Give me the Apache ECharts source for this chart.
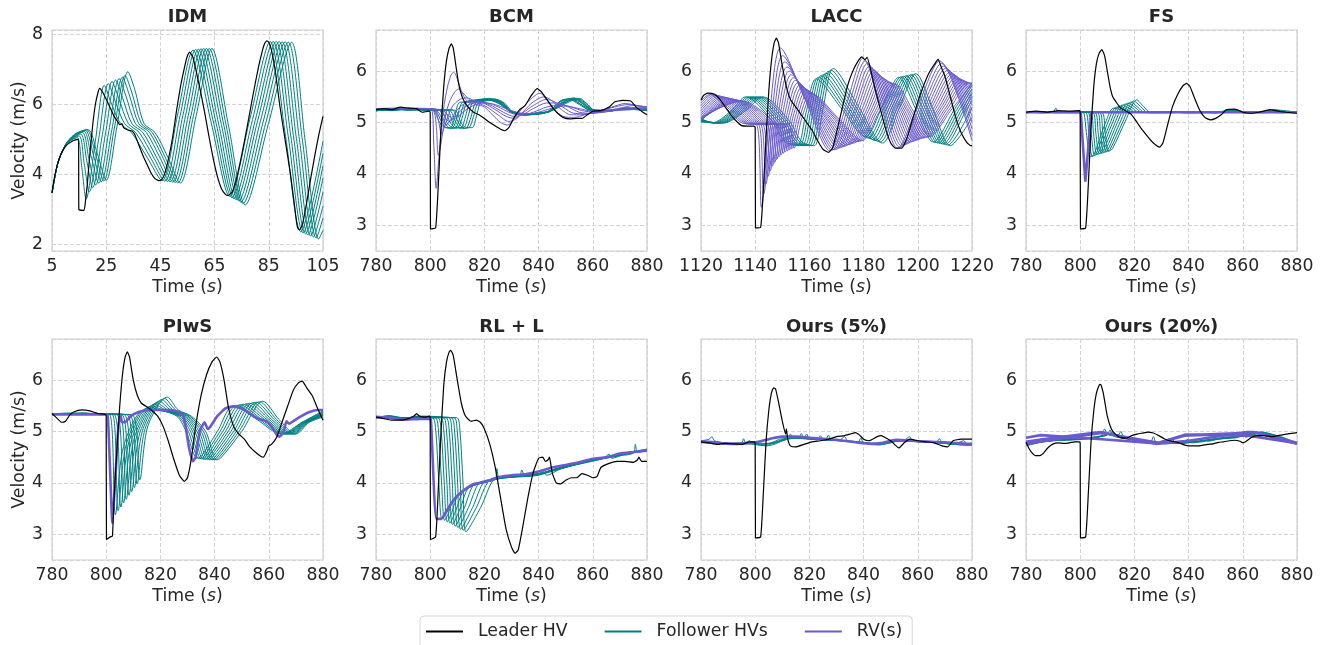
<!DOCTYPE html>
<html>
<head>
<meta charset="utf-8">
<script src="https://cdn.jsdelivr.net/npm/echarts@6/dist/echarts.min.js"></script>
<style>html,body{margin:0;padding:0;background:#fff}#c{width:1323px;height:645px}</style>
</head>
<body>
<div id="c"></div>
<script>
// ---------------- DATA ----------------
const panelTitles = ['IDM', 'BCM', 'LACC', 'FS', 'PIwS', 'RL + L', 'Ours (5%)', 'Ours (20%)'];
const legendNames = ['Leader HV', 'Follower HVs', 'RV(s)'];
const xRanges = [[5,105],[780,880],[1120,1220],[780,880],[780,880],[780,880],[780,880],[780,880]];
const yRanges = [[1.81,8.13],[2.5,6.8],[2.5,6.8],[2.5,6.8],[2.5,6.8],[2.5,6.8],[2.5,6.8],[2.5,6.8]];

// IDM
const idmLeader = [[5,3.47],[6,3.95],[7,4.28],[8,4.52],[9,4.68],[10,4.8],[11,4.88],[12,4.93],[13,4.97],[14.8,5.0],[14.9,3.0],[16.8,2.97],[17.3,3.2],[18,3.7],[19,4.6],[20,5.4],[21,6.0],[22,6.35],[22.6,6.46],[23.5,6.38],[25,6.15],[26.5,5.9],[28,5.65],[29.3,5.5],[30,5.42],[30.8,5.45],[31.5,5.33],[33,5.27],[34.5,5.24],[35.5,5.15],[37,4.85],[38.5,4.55],[40,4.3],[41.5,4.05],[43,3.88],[44.4,3.82],[45.5,3.86],[46.5,4.0],[48,4.45],[49.5,5.05],[51,5.85],[52.5,6.55],[54,7.1],[55,7.4],[55.8,7.5],[57,7.35],[58.5,6.85],[60,6.3],[61.5,5.7],[63,5.05],[64.5,4.45],[66,3.95],[67.5,3.6],[69,3.43],[70,3.4],[71.5,3.5],[73,3.85],[75,4.55],[77,5.35],[79,6.2],[81,7.0],[82.5,7.5],[83.5,7.75],[84.3,7.82],[85,7.78],[86,7.55],[87.5,6.9],[89,6.0],[91,5.0],[93,4.0],[94.5,3.1],[95.3,2.6],[95.8,2.45],[96.5,2.42],[97.5,2.6],[99,3.2],[100.5,3.9],[102,4.55],[103.5,5.15],[105,5.66]];
const idmFollowers = [
[[5,3.47],[7,4.28],[9,4.7],[11,4.92],[14.3,5.05],[16,4.2],[17.6,3.3],[21,4.95],[24.3,6.55],[26.8,6.05],[30.3,5.45],[34.3,5.2],[40,4.5],[45.6,3.82],[51.3,5.69],[57,7.55],[63.8,5.46],[70.6,3.37],[78,5.58],[85.5,7.8],[91.2,5.08],[96.8,2.36],[105,4.95]],
[[5,3.47],[7,4.28],[9,4.7],[11,4.93],[15,5.1],[16.9,4.3],[18.8,3.5],[22.3,5.05],[25.8,6.6],[28.3,6.1],[31.8,5.45],[35.8,5.2],[41.2,4.5],[46.6,3.81],[52.3,5.69],[58,7.57],[64.7,5.45],[71.4,3.34],[79,5.57],[86.6,7.8],[92.2,5.07],[97.7,2.33],[105,4.6]],
[[5,3.47],[7,4.28],[9,4.7],[11,4.94],[15.6,5.15],[17.8,4.4],[20,3.62],[23.6,5.14],[27.2,6.66],[29.7,6.16],[33.2,5.45],[37.2,5.2],[42.4,4.5],[47.6,3.8],[53.3,5.69],[59,7.58],[65.6,5.45],[72.2,3.31],[80,5.55],[87.7,7.8],[93.2,5.05],[98.6,2.3],[105,4.25]],
[[5,3.47],[7,4.28],[9,4.7],[11,4.95],[16.2,5.2],[18.6,4.45],[21.1,3.7],[24.8,5.2],[28.5,6.7],[31,6.2],[34.5,5.45],[38.5,5.2],[43.5,4.5],[48.6,3.79],[54.3,5.69],[60,7.59],[66.5,5.44],[73,3.28],[80.9,5.54],[88.8,7.8],[94.2,5.04],[99.5,2.27],[105,3.9]],
[[5,3.47],[7,4.28],[9,4.7],[11,4.95],[13.5,5.12],[16.8,5.23],[19.5,4.5],[22.2,3.75],[26,5.25],[29.8,6.74],[32.3,6.24],[35.8,5.45],[39.8,5.2],[44.7,4.5],[49.6,3.78],[55.3,5.69],[61,7.6],[67.5,5.43],[73.9,3.25],[81.9,5.52],[89.9,7.79],[95.2,5.02],[100.5,2.24],[105,3.5]],
[[5,3.47],[7,4.28],[9,4.7],[11,4.96],[14,5.15],[17.3,5.26],[20.3,4.55],[23.2,3.79],[27.1,5.28],[31,6.78],[33.5,6.28],[37,5.45],[41,5.2],[45.8,4.5],[50.5,3.77],[56.3,5.69],[62,7.6],[68.4,5.41],[74.7,3.21],[82.9,5.5],[91,7.79],[96.3,5.0],[101.5,2.21],[105,3.1]],
[[5,3.47],[7,4.28],[9,4.7],[11,4.96],[14,5.17],[17.8,5.28],[21,4.6],[24.1,3.81],[28,5.32],[32,6.83],[34.5,6.33],[38,5.45],[42,5.2],[46.7,4.5],[51.4,3.76],[57.2,5.68],[63,7.6],[69.3,5.39],[75.5,3.17],[83.9,5.48],[92.2,7.78],[97.4,4.98],[102.5,2.18],[105,2.75]],
[[5,3.47],[7,4.28],[9,4.7],[11,4.97],[14,5.18],[18.3,5.28],[21.7,4.6],[25,3.83],[29,5.38],[33,6.94],[35.5,6.44],[39,5.45],[43,5.2],[47.7,4.5],[52.3,3.75],[58.2,5.68],[64,7.6],[70.2,5.37],[76.3,3.13],[84.9,5.46],[93.4,7.78],[98.4,4.97],[103.4,2.15],[105,2.4]]
];
const idmRVs = [];

// BCM
const bcmLeader = [[780,5.25],[783,5.27],[786,5.25],[789,5.3],[792,5.28],[795,5.27],[797,5.2],[799.5,5.22],[800,5.2],[800.1,2.93],[802,2.95],[803,3.8],[804,4.9],[805,5.7],[806,6.2],[807,6.45],[807.8,6.53],[808.5,6.45],[809.5,6.1],[810.5,5.75],[812,5.47],[814,5.3],[816,5.2],[818,5.15],[820,5.08],[822,5.0],[824,4.93],[826,4.87],[827.5,4.84],[829,4.9],[831,5.1],[833,5.25],[835,5.33],[837,5.5],[839.4,5.66],[841,5.6],[843,5.45],[845,5.3],[847,5.18],[849,5.1],[851.5,5.07],[854,5.08],[856,5.08],[858,5.15],[860,5.22],[863,5.23],[866,5.3],[868,5.4],[871,5.43],[874,5.42],[876,5.3],[878,5.22],[880,5.15]];
const bcmRVs = [
[[780,5.27],[790,5.28],[797,5.27],[800.5,5.25],[801.3,4.6],[802.2,3.72],[803.2,4.3],[804.5,5.1],[806,5.6],[807.5,5.9],[808.6,5.98],[810,5.85],[812,5.55],[814,5.4],[817,5.35],[820,5.3],[823,5.15],[826,5.0],[828.5,4.95],[831,5.08],[834,5.28],[837,5.45],[840.5,5.57],[843,5.45],[846,5.25],[849,5.12],[853,5.1],[857,5.15],[862,5.22],[867,5.3],[872,5.37],[876,5.33],[880,5.28]],
[[780,5.27],[790,5.28],[800,5.27],[801.5,5.2],[802.3,4.9],[803,4.36],[804,4.6],[805.5,5.1],[807.5,5.45],[810.4,5.65],[812.5,5.55],[815,5.42],[818,5.37],[821,5.3],[825,5.15],[829,5.02],[832,5.08],[835,5.25],[838,5.4],[842,5.5],[845,5.42],[848,5.27],[852,5.15],[856,5.15],[862,5.22],[868,5.3],[873,5.35],[880,5.3]],
[[780,5.27],[800,5.27],[802,5.22],[803,5.05],[804.2,4.78],[805.5,4.95],[808,5.3],[811,5.45],[813.5,5.48],[816,5.43],[820,5.37],[824,5.25],[828,5.12],[831,5.08],[834,5.18],[838,5.33],[843,5.45],[846,5.4],[849,5.3],[853,5.18],[858,5.17],[864,5.22],[870,5.28],[875,5.33],[880,5.3]],
[[780,5.27],[800,5.27],[803,5.2],[804.5,5.05],[805.8,4.95],[807.5,5.05],[810,5.25],[813,5.38],[815.5,5.42],[819,5.4],[823,5.32],[827,5.2],[831,5.12],[834,5.15],[838,5.27],[843,5.38],[847,5.38],[851,5.3],[855,5.2],[860,5.18],[866,5.22],[872,5.28],[880,5.3]],
[[780,5.27],[800,5.27],[804,5.22],[805.5,5.1],[807,5.02],[809,5.1],[812,5.27],[815,5.36],[818,5.4],[822,5.37],[826,5.28],[830,5.18],[834,5.15],[838,5.2],[843,5.3],[848,5.35],[852,5.3],[857,5.22],[863,5.2],[870,5.25],[880,5.28]],
[[780,5.27],[800,5.27],[805,5.22],[807,5.12],[808.5,5.07],[811,5.15],[814,5.28],[817,5.35],[820,5.38],[824,5.35],[828,5.27],[832,5.2],[836,5.17],[840,5.2],[845,5.28],[850,5.32],[855,5.27],[860,5.22],[868,5.23],[880,5.27]]
];
const bcmFollowers = [
[[780,5.24],[786,5.25],[792,5.26],[798,5.25],[801,5.24],[803.5,5.0],[805.5,4.9],[807.5,4.9],[809,5.1],[810.5,5.38],[812.5,5.4],[820,5.45],[825,5.38],[830,5.2],[835,5.15],[840,5.18],[844,5.22],[848,5.42],[851,5.46],[855,5.35],[859,5.24],[866,5.23],[872,5.27],[880,5.24]],
[[780,5.22],[786,5.27],[792,5.24],[798,5.27],[802,5.23],[804.5,4.98],[806.5,4.89],[808.5,4.91],[810,5.12],[811.5,5.37],[813.5,5.41],[820.5,5.46],[825.3,5.37],[830,5.21],[835,5.16],[840,5.17],[844,5.23],[848.5,5.43],[851.5,5.45],[855.4,5.36],[859.2,5.25],[866,5.22],[872,5.28],[880,5.25]],
[[780,5.25],[786,5.23],[792,5.27],[798,5.24],[803,5.25],[805.5,4.99],[807.5,4.88],[809.5,4.9],[811,5.1],[812.5,5.36],[814.5,5.42],[821,5.44],[825.6,5.39],[830,5.19],[835,5.14],[840,5.19],[844,5.21],[849,5.41],[852,5.47],[855.8,5.34],[859.4,5.23],[866,5.24],[872,5.26],[880,5.23]],
[[780,5.23],[786,5.26],[792,5.25],[798,5.26],[804,5.24],[806.5,4.97],[808.5,4.9],[810.5,4.92],[812,5.13],[813.5,5.39],[815.5,5.4],[821.5,5.47],[825.9,5.38],[830,5.22],[835,5.15],[840,5.16],[844,5.22],[849.5,5.44],[852.5,5.45],[856.2,5.37],[859.6,5.24],[866,5.23],[872,5.27],[880,5.26]],
[[780,5.26],[786,5.24],[792,5.26],[798,5.25],[805,5.23],[807.5,4.99],[809.5,4.89],[811.5,4.9],[813,5.11],[814.5,5.37],[816.5,5.42],[822,5.45],[826.2,5.36],[830,5.2],[835,5.17],[840,5.18],[844,5.21],[850,5.42],[853,5.48],[856.6,5.35],[859.8,5.25],[866,5.22],[872,5.28],[880,5.24]],
[[780,5.24],[786,5.27],[792,5.25],[798,5.24],[806,5.25],[808.5,4.98],[810.5,4.9],[812.5,4.91],[814,5.12],[815.5,5.38],[817.5,5.41],[822.5,5.46],[826.5,5.37],[830,5.21],[835,5.15],[840,5.17],[844,5.23],[850.5,5.43],[853.5,5.46],[857,5.36],[860,5.24],[866,5.24],[872,5.26],[880,5.25]],
[[780,5.25],[786,5.25],[792,5.27],[798,5.26],[807,5.24],[809.5,5.0],[811.5,4.88],[813.5,4.9],[815,5.1],[816.5,5.36],[818.5,5.42],[823,5.44],[826.8,5.38],[830,5.2],[835,5.16],[840,5.19],[844,5.22],[851,5.42],[854,5.47],[857.4,5.35],[860.2,5.25],[866,5.23],[872,5.27],[880,5.24]],
[[780,5.23],[786,5.26],[792,5.24],[798,5.25],[808,5.25],[810.5,4.99],[812.5,4.89],[814.5,4.91],[816,5.12],[817.5,5.37],[819.5,5.41],[823.5,5.46],[827.1,5.37],[830,5.21],[835,5.15],[840,5.18],[844,5.22],[851.5,5.43],[854.5,5.46],[857.8,5.36],[860.4,5.24],[866,5.22],[872,5.28],[880,5.25]],
[[780,5.24],[786,5.24],[792,5.26],[798,5.24],[809,5.24],[811.5,4.98],[813.5,4.9],[815.5,4.9],[817,5.11],[818.5,5.38],[820.5,5.42],[824,5.45],[827.4,5.38],[830.5,5.2],[835,5.16],[840,5.17],[844,5.21],[852,5.42],[855,5.47],[858.2,5.35],[860.6,5.24],[866,5.24],[872,5.26],[880,5.24]]
];

// LACC
const laccLeader = [[1120,5.44],[1121,5.53],[1122.5,5.57],[1125,5.55],[1127,5.45],[1129,5.3],[1131,5.15],[1133,5.03],[1135,4.94],[1137,4.93],[1139.5,4.93],[1140,4.9],[1140.1,2.95],[1142,2.96],[1143,3.7],[1144,4.7],[1145,5.6],[1146,6.2],[1147,6.55],[1147.8,6.64],[1148.6,6.55],[1150,6.1],[1151.5,5.7],[1153,5.45],[1155,5.3],[1157,5.15],[1159,5.0],[1161,4.85],[1163,4.65],[1165,4.48],[1167,4.42],[1168.5,4.5],[1170,4.8],[1172,5.25],[1174,5.7],[1176,6.0],[1178,6.2],[1179.4,6.28],[1180.5,6.22],[1181.3,6.27],[1182.5,6.05],[1184,5.7],[1186,5.3],[1188,4.9],[1190,4.6],[1191.7,4.5],[1194,4.5],[1196,4.7],[1198,5.05],[1200,5.4],[1202,5.7],[1204,5.95],[1206,6.12],[1207.5,6.23],[1208.5,6.1],[1210,5.9],[1212,5.5],[1214,5.1],[1216,4.8],[1218,4.62],[1219.5,4.55],[1220,4.55]];
const laccRVs = [
[[1120,5.42],[1123.3,5.55],[1129.8,5.25],[1135.8,4.98],[1140.5,4.96],[1142.3,3.35],[1145.45,5.21],[1149.3,6.45],[1158.4,5.45],[1167.5,4.45],[1173.65,5.35],[1179.8,6.25],[1186.15,5.38],[1192.5,4.5],[1200.25,5.35],[1208,6.2],[1220,4.65]],
[[1120,5.38],[1124.1,5.55],[1130.6,5.25],[1136.6,4.98],[1141.3,4.96],[1143.1,3.6],[1146.25,5.22],[1150.1,6.3],[1159.2,5.38],[1168.3,4.46],[1174.45,5.33],[1180.6,6.2],[1186.95,5.36],[1193.3,4.52],[1201.05,5.34],[1208.8,6.15],[1220,4.75]],
[[1120,5.33],[1124.9,5.54],[1131.4,5.25],[1137.4,4.98],[1142.1,4.96],[1143.9,3.8],[1147.05,5.23],[1150.9,6.18],[1160,5.33],[1169.1,4.47],[1175.25,5.31],[1181.4,6.15],[1187.75,5.35],[1194.1,4.54],[1201.85,5.32],[1209.6,6.1],[1220,4.88]],
[[1120,5.28],[1125.7,5.53],[1132.2,5.25],[1138.2,4.98],[1142.9,4.96],[1144.7,3.95],[1147.85,5.23],[1151.7,6.08],[1160.8,5.28],[1169.9,4.48],[1176.05,5.29],[1182.2,6.1],[1188.55,5.33],[1194.9,4.56],[1202.65,5.31],[1210.4,6.06],[1220,5.0]],
[[1120,5.23],[1126.5,5.52],[1133,5.25],[1139,4.98],[1143.7,4.96],[1145.5,4.06],[1148.65,5.22],[1152.5,6.0],[1161.6,5.25],[1170.7,4.5],[1176.85,5.28],[1183,6.06],[1189.35,5.32],[1195.7,4.58],[1203.45,5.3],[1211.2,6.02],[1220,5.12]],
[[1120,5.18],[1127.3,5.51],[1133.8,5.25],[1139.8,4.98],[1144.5,4.96],[1146.3,4.15],[1149.45,5.22],[1153.3,5.93],[1162.4,5.22],[1171.5,4.51],[1177.65,5.27],[1183.8,6.02],[1190.15,5.31],[1196.5,4.6],[1204.25,5.29],[1212,5.98],[1220,5.23]],
[[1120,5.14],[1128.1,5.5],[1134.6,5.25],[1140.6,4.98],[1145.3,4.96],[1147.1,4.22],[1150.25,5.21],[1154.1,5.87],[1163.2,5.2],[1172.3,4.53],[1178.45,5.26],[1184.6,5.98],[1190.95,5.3],[1197.3,4.62],[1205.05,5.29],[1212.8,5.95],[1220,5.33]],
[[1120,5.1],[1128.9,5.49],[1135.4,5.25],[1141.4,4.98],[1146.1,4.96],[1147.9,4.28],[1151.05,5.2],[1154.9,5.82],[1164,5.18],[1173.1,4.54],[1179.25,5.24],[1185.4,5.94],[1191.75,5.29],[1198.1,4.63],[1205.85,5.28],[1213.6,5.92],[1220,5.42]],
[[1120,5.07],[1129.7,5.48],[1136.2,5.25],[1142.2,4.98],[1146.9,4.96],[1148.7,4.33],[1151.85,5.19],[1155.7,5.77],[1164.8,5.17],[1173.9,4.56],[1180.05,5.23],[1186.2,5.9],[1192.55,5.28],[1198.9,4.65],[1206.65,5.27],[1214.4,5.89],[1220,5.5]],
[[1120,5.05],[1130.5,5.47],[1137,5.25],[1143,4.98],[1147.7,4.96],[1149.5,4.37],[1152.65,5.19],[1156.5,5.73],[1165.6,5.15],[1174.7,4.57],[1180.85,5.22],[1187,5.87],[1193.35,5.27],[1199.7,4.66],[1207.45,5.26],[1215.2,5.86],[1220,5.57]],
[[1120,5.04],[1131.3,5.46],[1137.8,5.25],[1143.8,4.98],[1148.5,4.96],[1150.3,4.4],[1153.45,5.17],[1157.3,5.69],[1166.4,5.14],[1175.5,4.59],[1181.65,5.22],[1187.8,5.84],[1194.15,5.26],[1200.5,4.68],[1208.25,5.26],[1216,5.84],[1220,5.63]],
[[1120,5.04],[1132.1,5.45],[1138.6,5.25],[1144.6,4.98],[1149.3,4.96],[1151.1,4.43],[1154.25,5.17],[1158.1,5.66],[1167.2,5.13],[1176.3,4.6],[1182.45,5.21],[1188.6,5.81],[1194.95,5.25],[1201.3,4.69],[1209.05,5.26],[1216.8,5.82],[1220,5.68]],
[[1120,5.05],[1132.9,5.44],[1139.4,5.25],[1145.4,4.98],[1150.1,4.96],[1151.9,4.45],[1155.05,5.16],[1158.9,5.63],[1168,5.13],[1177.1,4.62],[1183.25,5.21],[1189.4,5.79],[1195.75,5.25],[1202.1,4.7],[1209.85,5.25],[1217.6,5.8],[1220,5.72]],
[[1120,5.06],[1133.7,5.43],[1140.2,5.25],[1146.2,4.98],[1150.9,4.96],[1152.7,4.47],[1155.85,5.15],[1159.7,5.6],[1168.8,5.12],[1177.9,4.63],[1184.05,5.2],[1190.2,5.77],[1196.55,5.24],[1202.9,4.71],[1210.65,5.25],[1218.4,5.78],[1220,5.75]],
[[1120,5.08],[1134.5,5.42],[1141,5.25],[1147,4.98],[1151.7,4.96],[1153.5,4.49],[1156.65,5.14],[1160.5,5.57],[1169.6,5.11],[1178.7,4.64],[1184.85,5.2],[1191,5.76],[1197.35,5.24],[1203.7,4.72],[1211.45,5.24],[1219.2,5.77],[1220,5.76]],
[[1120,5.1],[1135.3,5.42],[1141.8,5.25],[1147.8,4.98],[1152.5,4.96],[1154.3,4.5],[1157.45,5.13],[1161.3,5.55],[1170.4,5.1],[1179.5,4.65],[1185.65,5.2],[1191.8,5.75],[1198.15,5.24],[1204.5,4.73],[1212.25,5.24],[1220,5.75]]
];
const laccFollowers = [
[[1120,5.08],[1124,4.99],[1131,5.22],[1136.5,5.5],[1146,5.05],[1151,4.62],[1155.5,4.55],[1158.8,5.2],[1162.5,5.85],[1171.6,5.29],[1180.7,4.72],[1186.85,5.3],[1193,5.88],[1199.35,5.25],[1205.7,4.62],[1213.45,5.25],[1220,5.78]],
[[1120,5.07],[1124.6,4.99],[1131.75,5.22],[1137.4,5.5],[1146.9,5.05],[1151.9,4.62],[1156.4,4.55],[1159.7,5.21],[1163.4,5.88],[1172.5,5.29],[1181.6,4.7],[1187.75,5.3],[1193.9,5.89],[1200.25,5.25],[1206.6,4.61],[1214.35,5.25],[1220,5.72]],
[[1120,5.06],[1125.2,4.99],[1132.5,5.22],[1138.3,5.5],[1147.8,5.05],[1152.8,4.62],[1157.3,4.55],[1160.6,5.23],[1164.3,5.91],[1173.4,5.3],[1182.5,4.69],[1188.65,5.3],[1194.8,5.9],[1201.15,5.25],[1207.5,4.6],[1215.25,5.25],[1220,5.65]],
[[1120,5.05],[1125.8,4.99],[1133.25,5.22],[1139.2,5.5],[1148.7,5.05],[1153.7,4.62],[1158.2,4.55],[1161.5,5.24],[1165.2,5.93],[1174.3,5.3],[1183.4,4.67],[1189.55,5.29],[1195.7,5.91],[1202.05,5.25],[1208.4,4.59],[1216.15,5.25],[1220,5.57]],
[[1120,5.04],[1126.4,4.99],[1134,5.22],[1140.1,5.5],[1149.6,5.05],[1154.6,4.62],[1159.1,4.55],[1162.4,5.26],[1166.1,5.96],[1175.2,5.31],[1184.3,4.65],[1190.45,5.29],[1196.6,5.92],[1202.95,5.25],[1209.3,4.58],[1217.05,5.25],[1220,5.5]],
[[1120,5.03],[1127,4.99],[1134.75,5.22],[1141,5.5],[1150.5,5.05],[1155.5,4.62],[1160,4.55],[1163.3,5.27],[1167,5.99],[1176.1,5.32],[1185.2,4.64],[1191.35,5.29],[1197.5,5.93],[1203.85,5.25],[1210.2,4.57],[1217.95,5.25],[1220,5.42]],
[[1120,5.02],[1127.6,4.99],[1135.5,5.22],[1141.9,5.5],[1151.4,5.05],[1156.4,4.62],[1160.9,4.55],[1164.2,5.29],[1167.9,6.02],[1177,5.32],[1186.1,4.62],[1192.25,5.28],[1198.4,5.94],[1204.75,5.25],[1211.1,4.56],[1220,5.3]],
[[1120,5.01],[1128.2,4.99],[1136.25,5.22],[1142.8,5.5],[1152.3,5.05],[1157.3,4.62],[1161.8,4.55],[1165.1,5.3],[1168.8,6.05],[1177.9,5.33],[1187,4.6],[1193.15,5.28],[1199.3,5.95],[1205.65,5.25],[1212,4.55],[1220,5.1]]
];

// FS
const fsLeader = [[780,5.2],[784,5.22],[788,5.2],[792,5.23],[796,5.22],[799.8,5.23],[800,5.2],[800.1,2.93],[802,2.95],[803,3.8],[804,4.9],[805,5.7],[806,6.15],[807,6.35],[808,6.42],[809,6.3],[810,6.0],[811,5.7],[812,5.5],[813.5,5.38],[815,5.28],[817,5.22],[819,5.15],[821,5.0],[823,4.85],[825,4.72],[827,4.6],[829.3,4.52],[830.5,4.6],[832,4.9],[834,5.3],[836,5.55],[838,5.72],[839.3,5.76],[840.5,5.7],[842,5.5],[844,5.25],[846,5.1],[848,5.05],[850,5.08],[852,5.15],[854,5.25],[857,5.26],[860,5.2],[863,5.18],[866,5.2],[870,5.25],[873,5.22],[876,5.2],[880,5.18]];
const fsRVs = [[[780,5.2],[800.2,5.2],[801.9,3.85],[804.1,5.2],[880,5.2]]];
const fsFollowers = [
[[780,5.19],[785,5.21],[790,5.2],[791,5.28],[792,5.2],[796,5.19],[800,5.2],[801.1,5.2],[802.4,4.75],[803.6,4.33],[805.1,4.38],[809,4.95],[812.3,5.28],[814.8,5.25],[817.3,5.2],[830,5.21],[840,5.19],[850,5.2],[856,5.24],[860,5.19],[866,5.2],[872,5.25],[875,5.21],[880,5.2]],
[[780,5.2],[786,5.19],[792,5.21],[798,5.2],[801.95,5.2],[803.25,4.75],[804.45,4.34],[805.95,4.4],[809.9,4.96],[813.37,5.3],[815.9,5.26],[818.4,5.2],[830,5.2],[840,5.21],[850,5.19],[857,5.25],[861,5.2],[868,5.21],[874,5.2],[880,5.21]],
[[780,5.21],[786,5.2],[792,5.19],[798,5.21],[802.8,5.2],[804.1,4.76],[805.3,4.36],[806.8,4.42],[810.9,4.97],[814.44,5.32],[816.9,5.27],[819.4,5.2],[830,5.19],[840,5.2],[850,5.21],[858,5.23],[862,5.19],[868,5.2],[874,5.22],[880,5.19]],
[[780,5.19],[786,5.21],[792,5.2],[798,5.19],[803.65,5.2],[804.95,4.77],[806.15,4.37],[807.65,4.43],[811.8,4.98],[815.51,5.34],[818,5.28],[820.5,5.2],[830,5.21],[840,5.19],[850,5.2],[856,5.22],[862,5.18],[868,5.21],[873,5.24],[880,5.2]],
[[780,5.2],[786,5.2],[792,5.21],[798,5.2],[804.5,5.2],[805.8,4.78],[807,4.39],[808.5,4.45],[812.8,4.99],[816.58,5.36],[819.1,5.29],[821.6,5.2],[830,5.2],[840,5.21],[850,5.19],[857,5.23],[862,5.2],[868,5.19],[874,5.21],[880,5.2]],
[[780,5.21],[786,5.19],[792,5.2],[798,5.21],[805.35,5.2],[806.65,4.79],[807.85,4.4],[809.35,4.46],[813.75,5.0],[817.65,5.38],[820.15,5.3],[822.65,5.2],[830,5.19],[840,5.2],[850,5.21],[856,5.2],[862,5.21],[868,5.2],[874,5.19],[880,5.21]],
[[780,5.19],[786,5.2],[792,5.21],[798,5.19],[806.2,5.2],[807.5,4.8],[808.7,4.41],[810.2,4.47],[814.7,5.0],[818.72,5.4],[821.2,5.3],[823.7,5.2],[830,5.2],[840,5.19],[850,5.2],[857,5.21],[862,5.2],[868,5.21],[874,5.2],[880,5.19]],
[[780,5.2],[786,5.21],[792,5.19],[798,5.2],[807.05,5.2],[808.35,4.8],[809.55,4.43],[811.05,4.48],[815.7,5.01],[819.79,5.42],[822.3,5.31],[824.8,5.2],[830,5.21],[840,5.2],[850,5.19],[856,5.21],[862,5.2],[868,5.2],[874,5.21],[880,5.2]],
[[780,5.2],[786,5.2],[792,5.2],[798,5.21],[807.9,5.2],[809.2,4.81],[810.4,4.44],[811.9,4.49],[816.6,5.02],[820.86,5.44],[823.4,5.31],[825.9,5.2],[832,5.2],[840,5.21],[850,5.2],[856,5.2],[862,5.19],[868,5.2],[874,5.2],[880,5.21]]
];

// PIwS
const piwsLeader = [[780,5.35],[782,5.25],[783.5,5.18],[785,5.2],[786.5,5.32],[788,5.38],[791,5.42],[794,5.4],[797,5.35],[799.8,5.33],[800,5.3],[800.1,2.9],[801.5,2.95],[802.3,2.97],[803,3.8],[804,4.7],[805,5.5],[806,6.1],[807,6.45],[807.8,6.55],[808.6,6.45],[810,6.0],[811.5,5.7],[813,5.55],[815,5.48],[817,5.4],[819,5.3],[821,5.1],[823,4.8],[825,4.45],[827,4.15],[828.8,4.03],[830,4.1],[831.5,4.5],[833,5.1],[835,5.7],[837,6.1],[839,6.35],[840.8,6.45],[842,6.35],[843.5,6.0],[845,5.5],[847,5.1],[849,4.95],[851,4.85],[853,4.7],[855,4.6],[857,4.52],[858,4.5],[859.5,4.65],[860,4.72],[861,4.75],[863,4.9],[865,5.2],[867,5.5],[869,5.8],[871,5.95],[872.3,5.98],[874,5.85],[876,5.7],[878,5.45],[880,5.22]];
const piwsRVs = [[[780,5.33],[800,5.33],[800.5,5.33],[802.3,3.22],[803.5,4.2],[804.5,5.1],[805.3,5.33],[805.8,5.18],[807,5.18],[809,5.3],[812,5.38],[816,5.42],[820,5.42],[824,5.42],[827,5.37],[828.5,5.3],[829.3,5.1],[830.5,4.7],[832,4.42],[833,4.5],[834.5,5.0],[836.3,5.18],[837.5,5.05],[838.5,5.1],[841,5.3],[844,5.45],[847,5.49],[850,5.45],[853,5.35],[856,5.25],[859,5.2],[861,5.1],[863,4.93],[864,4.9],[865.5,5.0],[866.5,5.2],[867.5,5.15],[869,5.2],[872,5.3],[875,5.38],[878,5.42],[880,5.42]]];
const piwsFollowers = [
[[780,5.34],[786,5.36],[792,5.35],[797,5.34],[801.3,5.33],[803.4,3.38],[806.4,4.71],[814,5.42],[818,5.42],[826,5.3],[829.5,5.0],[833.5,4.48],[835,4.51],[841,5.0],[847,5.5],[855.75,5.23],[864.5,4.95],[872.25,5.18],[880,5.4]],
[[780,5.33],[786,5.35],[792,5.36],[797,5.33],[802.2,5.33],[804.4,3.46],[807.4,4.75],[814.95,5.45],[818.95,5.42],[826.6,5.3],[830.3,5.0],[834.3,4.47],[835.8,4.5],[842,5.0],[848.2,5.51],[856.65,5.23],[865.1,4.95],[872.55,5.18],[880,5.38]],
[[780,5.35],[786,5.34],[792,5.35],[797,5.35],[803.1,5.33],[805.4,3.53],[808.4,4.8],[815.9,5.48],[819.9,5.42],[827.2,5.3],[831.1,5.0],[835.1,4.47],[836.6,4.5],[843,5.0],[849.4,5.52],[857.55,5.23],[865.7,4.95],[872.85,5.18],[880,5.37]],
[[780,5.34],[786,5.35],[792,5.34],[797,5.34],[804,5.33],[806.4,3.61],[809.4,4.84],[816.85,5.5],[820.85,5.42],[827.8,5.3],[831.9,5.0],[835.9,4.46],[837.4,4.49],[844,5.0],[850.6,5.53],[858.45,5.23],[866.3,4.95],[873.15,5.18],[880,5.35]],
[[780,5.33],[786,5.34],[792,5.35],[797,5.33],[804.9,5.33],[807.4,3.68],[810.4,4.88],[817.8,5.53],[821.8,5.42],[828.4,5.3],[832.7,5.0],[836.7,4.46],[838.2,4.49],[845,5.0],[851.8,5.54],[859.35,5.23],[866.9,4.95],[873.45,5.18],[880,5.34]],
[[780,5.35],[786,5.33],[792,5.34],[797,5.34],[805.8,5.33],[808.4,3.76],[811.4,4.93],[818.75,5.56],[822.75,5.42],[829,5.3],[833.5,5.0],[837.5,4.46],[839,4.49],[846,5.0],[853,5.55],[860.25,5.23],[867.5,4.95],[873.75,5.18],[880,5.33]],
[[780,5.34],[786,5.35],[792,5.33],[797,5.35],[806.7,5.33],[809.4,3.83],[812.4,4.97],[819.7,5.59],[823.7,5.42],[829.6,5.3],[834.3,5.0],[838.3,4.45],[839.8,4.48],[847,5.0],[854.2,5.56],[861.15,5.23],[868.1,4.95],[874.05,5.18],[880,5.32]],
[[780,5.33],[786,5.34],[792,5.35],[797,5.33],[807.6,5.33],[810.4,3.91],[813.4,5.02],[820.65,5.62],[824.65,5.42],[830.2,5.3],[835.1,5.0],[839.1,4.45],[840.6,4.48],[848,5.0],[855.4,5.57],[862.05,5.23],[868.7,4.95],[874.35,5.18],[880,5.31]],
[[780,5.34],[786,5.34],[792,5.36],[797,5.34],[808.5,5.33],[811.4,3.98],[814.4,5.06],[821.6,5.64],[825.6,5.42],[830.8,5.3],[835.9,5.0],[839.9,4.45],[841.4,4.48],[849,5.0],[856.6,5.58],[862.95,5.23],[869.3,4.95],[874.65,5.18],[880,5.3]],
[[780,5.35],[786,5.35],[792,5.34],[797,5.33],[809.4,5.33],[812.4,4.06],[815.4,5.11],[822.55,5.67],[826.55,5.42],[831.4,5.3],[836.7,5.0],[840.7,4.45],[842.2,4.48],[850,5.0],[857.8,5.59],[863.85,5.23],[869.9,4.95],[874.95,5.18],[880,5.28]]
];

// RL + L
const rllLeader = [[780,5.28],[783,5.25],[786,5.22],[789,5.22],[792,5.25],[794,5.3],[795,5.35],[796,5.3],[798,5.28],[799.8,5.3],[800,5.25],[800.1,2.9],[802,2.95],[803,3.9],[804,5.0],[805,5.9],[806,6.35],[807,6.55],[807.6,6.58],[808.5,6.48],[810,6.0],[811.5,5.55],[813,5.3],[815,5.2],[817,5.22],[818.5,5.18],[820,5.05],[822,4.75],[824,4.3],[826,3.7],[828,3.1],[830,2.75],[831.3,2.63],[832.5,2.7],[834,3.1],[836,3.7],[838,4.2],[840,4.48],[841.5,4.5],[842.5,4.42],[843.5,4.45],[844,4.5],[845,4.2],[846.5,4.0],[848,3.98],[850,4.05],[852,4.1],[854,4.1],[856,4.18],[858,4.15],[860,4.1],[861.5,4.12],[863,4.3],[866,4.38],[869,4.42],[872,4.42],[875,4.4],[876.5,4.45],[877,4.5],[878,4.42],[880,4.42]];
const rllRVs = [[[780,5.28],[785,5.27],[790,5.23],[795,5.24],[800,5.25],[800.3,5.2],[802.3,3.3],[804,3.3],[806,3.45],[808,3.62],[810,3.75],[813,3.88],[816,3.98],[820,4.02],[826,4.12],[830,4.15],[835,4.17],[840,4.22],[845,4.3],[850,4.35],[855,4.4],[860,4.47],[865,4.5],[870,4.57],[875,4.6],[880,4.63]]];
const rllFollowers = [
[[780,5.28],[785,5.3],[790,5.25],[795,5.28],[800.8,5.27],[802,5.05],[803.2,4.0],[804.3,3.3],[806,3.43],[809,3.68],[812,3.84],[816,3.96],[820,4.02],[824,4.08],[828,4.12],[834,4.15],[840,4.18],[846,4.27],[852,4.35],[858,4.42],[864,4.48],[870,4.54],[876,4.6],[880,4.62]],
[[780,5.27],[785,5.31],[790,5.26],[795,5.27],[801.79,5.27],[802.99,5.05],[804.19,4.0],[805.29,3.27],[806.65,3.4],[808,3.6],[812,3.83],[816,3.95],[820,4.01],[824,4.07],[828,4.1],[833,4.14],[833.8,4.25],[835,4.13],[840,4.16],[846,4.24],[852,4.33],[858,4.4],[864,4.47],[870,4.53],[875,4.58],[875.7,4.75],[876.5,4.6],[880,4.64]],
[[780,5.3],[785,5.28],[790,5.24],[795,5.29],[802.78,5.27],[803.98,5.05],[805.18,4.0],[806.28,3.24],[808.14,3.45],[810,3.73],[814,3.9],[818,3.99],[822,4.05],[828,4.13],[834,4.13],[840,4.15],[846,4.25],[852,4.34],[858,4.42],[864,4.5],[870,4.56],[876,4.62],[880,4.66]],
[[780,5.26],[785,5.29],[790,5.27],[795,5.26],[803.77,5.27],[804.97,5.05],[806.17,4.0],[807.27,3.22],[809.6,3.48],[812,3.82],[816,3.95],[820,4.01],[824,4.07],[824.6,4.28],[825.5,4.1],[830,4.12],[836,4.16],[842,4.2],[848,4.29],[854,4.37],[860,4.45],[866,4.51],[872,4.57],[880,4.63]],
[[780,5.29],[785,5.27],[790,5.25],[795,5.3],[804.76,5.27],[805.96,5.05],[807.16,4.0],[808.26,3.19],[811.13,3.51],[814,3.9],[818,3.98],[822,4.04],[828,4.11],[834,4.14],[840,4.17],[846,4.26],[852,4.34],[858,4.41],[864,4.49],[870,4.55],[876,4.61],[880,4.63]],
[[780,5.27],[785,5.3],[790,5.26],[795,5.28],[805.75,5.27],[806.95,5.05],[808.15,4.0],[809.25,3.16],[812.63,3.52],[816,3.96],[820,4.01],[824,4.07],[828,4.1],[834,4.12],[840,4.16],[841.5,4.24],[843,4.15],[848,4.27],[854,4.36],[860,4.44],[866,4.5],[872,4.57],[880,4.64]],
[[780,5.28],[785,5.29],[790,5.27],[795,5.27],[806.74,5.27],[807.94,5.05],[809.14,4.0],[810.24,3.13],[814.12,3.52],[818,4.0],[822,4.05],[828,4.12],[834,4.15],[840,4.17],[846,4.26],[852,4.35],[858,4.43],[864,4.49],[870,4.55],[876,4.6],[880,4.65]],
[[780,5.29],[785,5.28],[790,5.25],[795,5.29],[807.73,5.27],[808.93,5.05],[810.13,4.0],[811.23,3.1],[815.62,3.52],[820,4.03],[824,4.07],[828,4.11],[834,4.14],[840,4.18],[846,4.25],[852,4.33],[858,4.41],[864,4.48],[866,4.56],[867,4.48],[872,4.56],[880,4.62]],
[[780,5.27],[785,5.28],[790,5.26],[795,5.28],[808.72,5.27],[809.92,5.05],[811.12,4.0],[812.22,3.08],[817.11,3.53],[822,4.06],[828,4.12],[834,4.14],[840,4.16],[846,4.26],[852,4.34],[858,4.42],[864,4.49],[870,4.55],[876,4.61],[880,4.64]],
[[780,5.28],[785,5.29],[790,5.26],[795,5.27],[809.71,5.27],[810.91,5.05],[812.11,4.0],[813.21,3.05],[818.6,3.52],[824,4.1],[828,4.13],[834,4.15],[840,4.17],[846,4.27],[852,4.35],[858,4.42],[864,4.48],[870,4.54],[876,4.6],[880,4.63]]
];

// Ours (5%)
const ours5Leader = [[780,4.8],[783,4.78],[786,4.75],[789,4.77],[792,4.76],[795,4.75],[798,4.8],[799.8,4.8],[800,4.75],[800.1,2.93],[802,2.95],[803,3.8],[804,4.8],[805,5.4],[806,5.75],[806.8,5.85],[807.5,5.83],[808.5,5.6],[810,5.2],[811.2,4.95],[811.5,5.05],[812,4.85],[813,4.72],[815,4.7],[818,4.75],[821,4.8],[824,4.82],[827,4.85],[830,4.9],[833,4.92],[835,4.95],[837,4.98],[838.5,4.93],[840,4.85],[842,4.82],[845,4.9],[846.5,4.92],[848,4.88],[850,4.82],[852,4.72],[853,4.68],[855,4.78],[857,4.85],[860,4.82],[863,4.8],[866,4.78],[869,4.72],[871,4.7],[873,4.82],[876,4.85],[880,4.85]];
const ours5RVs = [[[780,4.81],[785,4.79],[791,4.76],[796,4.77],[800,4.79],[805,4.85],[810,4.9],[815,4.9],[820,4.88],[825,4.86],[830,4.84],[837,4.79],[843,4.76],[847,4.78],[852,4.84],[856,4.83],[860,4.81],[865,4.8],[870,4.79],[875,4.77],[880,4.76]]];
const ours5Followers = [
[[780,4.82],[783,4.85],[784,4.9],[785,4.82],[788,4.78],[791,4.76],[795,4.78],[795.7,4.86],[796.5,4.78],[800,4.77],[803,4.75],[806,4.78],[809,4.85],[812,4.87],[813,4.95],[814,4.87],[818,4.86],[822,4.85],[826,4.84],[827,4.93],[828,4.84],[832,4.82],[836,4.8],[840,4.77],[843,4.76],[846,4.78],[850,4.8],[855,4.83],[857,4.9],[858,4.82],[862,4.81],[866,4.8],[870,4.77],[875,4.75],[880,4.75]],
[[780,4.8],[784,4.8],[788,4.77],[792,4.75],[796,4.77],[798,4.82],[799,4.77],[802,4.73],[805,4.74],[808,4.8],[811,4.86],[815,4.88],[818,4.87],[819,4.95],[820,4.86],[825,4.84],[830,4.83],[835,4.81],[838,4.8],[839,4.87],[840,4.78],[845,4.74],[850,4.78],[853,4.82],[856,4.82],[860,4.8],[864,4.79],[867,4.8],[868,4.86],[869,4.78],[874,4.75],[880,4.73]],
[[780,4.78],[785,4.78],[790,4.75],[794,4.76],[798,4.78],[801,4.75],[804,4.72],[807,4.75],[810,4.82],[813,4.86],[816,4.87],[820,4.85],[823,4.84],[824,4.92],[825,4.84],[830,4.82],[835,4.8],[841,4.78],[844,4.75],[846,4.74],[848,4.77],[852,4.82],[858,4.81],[863,4.8],[870,4.77],[876,4.74],[880,4.74]],
[[780,4.79],[786,4.77],[790,4.77],[796,4.78],[800,4.78],[803,4.77],[806,4.77],[808,4.78],[811,4.84],[814,4.88],[816,4.87],[817,4.96],[818,4.87],[823,4.85],[828,4.84],[833,4.82],[836,4.81],[842,4.78],[848,4.76],[851,4.8],[855,4.82],[860,4.8],[865,4.8],[872,4.76],[878,4.74],[880,4.76]],
[[780,4.8],[787,4.79],[792,4.77],[797,4.76],[800,4.75],[804,4.76],[807,4.79],[810,4.83],[812,4.87],[816,4.88],[821,4.86],[826,4.85],[831,4.83],[833,4.9],[834,4.82],[838,4.8],[843,4.76],[847,4.76],[850,4.79],[854,4.82],[859,4.81],[864,4.8],[869,4.77],[874,4.77],[877,4.82],[878,4.76],[880,4.75]]
];

// Ours (20%)
const ours20Leader = [[780,4.79],[781,4.68],[782,4.6],[783.5,4.53],[785,4.53],[786.5,4.58],[788,4.68],[790,4.76],[792,4.78],[794,4.77],[796,4.78],[798,4.8],[799.8,4.8],[800,4.75],[800.1,2.93],[802,2.95],[803,3.8],[804,4.8],[805,5.4],[806,5.75],[807,5.9],[807.5,5.92],[808.5,5.75],[810,5.3],[811.5,5.05],[813,4.95],[815,4.88],[817,4.87],[819,4.92],[821,4.95],[823,4.97],[825,4.99],[827,4.97],[829,4.92],[831,4.86],[833,4.82],[835,4.8],[837,4.77],[839,4.73],[841,4.72],[843,4.72],[845,4.73],[847,4.75],[849,4.76],[851,4.79],[853,4.8],[855,4.82],[857,4.83],[859,4.81],[860,4.78],[861,4.8],[863,4.88],[865,4.92],[868,4.92],[871,4.9],[874,4.93],[877,4.96],[880,4.98]];
const ours20RVs = [
[[780,4.88],[785.5,4.93],[808,4.85],[828.5,4.77],[839,4.94],[862,4.92],[880,4.77]],
[[780,4.8],[786,4.85],[807.5,4.99],[828,4.76],[840,4.82],[861.5,4.99],[864,4.99],[880,4.76]],
[[780,4.76],[790,4.84],[808,4.97],[829,4.78],[838.5,4.92],[850,4.95],[865,4.98],[880,4.78]]
];
const ours20Followers = [
[[780,4.72],[783,4.76],[786,4.8],[790,4.82],[794,4.85],[798,4.86],[802,4.88],[806,4.9],[808,4.93],[809,5.05],[810,4.95],[814,4.9],[818,4.85],[822,4.82],[826,4.8],[827,4.9],[828,4.79],[832,4.76],[836,4.78],[840,4.8],[844,4.82],[848,4.85],[852,4.88],[856,4.9],[860,4.92],[864,4.97],[868,4.95],[872,4.9],[876,4.82],[880,4.75]],
[[780,4.75],[784,4.78],[788,4.82],[792,4.83],[796,4.84],[800,4.86],[804,4.88],[807,4.9],[810,4.93],[811,5.03],[812,4.92],[816,4.87],[820,4.83],[824,4.8],[828,4.78],[832,4.77],[834,4.85],[835,4.77],[839,4.78],[843,4.8],[847,4.83],[851,4.86],[855,4.88],[859,4.9],[863,4.95],[866,4.99],[870,4.95],[874,4.88],[878,4.8],[880,4.77]],
[[780,4.78],[785,4.8],[790,4.83],[795,4.84],[800,4.85],[805,4.87],[809,4.92],[812,4.98],[813,4.9],[817,4.86],[821,4.82],[825,4.8],[829,4.78],[833,4.77],[837,4.77],[840,4.85],[841,4.78],[845,4.8],[849,4.84],[853,4.87],[857,4.9],[861,4.93],[865,4.97],[868,4.97],[871,4.92],[875,4.85],[880,4.78]],
[[780,4.74],[785,4.79],[790,4.82],[795,4.83],[799,4.84],[803,4.86],[807,4.9],[810,4.95],[814,4.93],[815,5.0],[816,4.9],[820,4.84],[824,4.81],[828,4.79],[832,4.78],[836,4.77],[840,4.79],[844,4.81],[846,4.88],[847,4.81],[851,4.85],[855,4.87],[860,4.91],[864,4.95],[867,4.99],[870,4.96],[874,4.9],[878,4.82],[880,4.76]],
[[780,4.77],[784,4.8],[789,4.82],[794,4.85],[799,4.86],[804,4.87],[808,4.91],[811,4.96],[815,4.92],[819,4.86],[823,4.82],[827,4.8],[831,4.78],[835,4.79],[838,4.77],[842,4.8],[846,4.82],[850,4.85],[854,4.87],[858,4.88],[860,4.95],[861,4.89],[865,4.95],[869,4.95],[873,4.9],[877,4.83],[880,4.77]]
];

// ---------------- CHART ----------------
const FONT = 'DejaVu Sans';
const TXT = '#262626';
const BLACK = '#000000', TEAL = '#008080', PURPLE = '#6a5acd';
const FS_ = 17.3;

const panelData = [
  {leader: idmLeader, followers: idmFollowers, rvs: idmRVs, rvW: 1, rvSmooth: 0.3},
  {leader: bcmLeader, followers: bcmFollowers, rvs: bcmRVs, rvW: 1, rvSmooth: 0.3},
  {leader: laccLeader, followers: laccFollowers, rvs: laccRVs, rvW: 1, rvSmooth: 0.3},
  {leader: fsLeader, followers: fsFollowers, rvs: fsRVs, rvW: 2.6, rvSmooth: false},
  {leader: piwsLeader, followers: piwsFollowers, rvs: piwsRVs, rvW: 2.6, rvSmooth: 0.15},
  {leader: rllLeader, followers: rllFollowers, rvs: rllRVs, rvW: 2.6, rvSmooth: 0.2},
  {leader: ours5Leader, followers: ours5Followers, rvs: ours5RVs, rvW: 2.6, rvSmooth: 0.3},
  {leader: ours20Leader, followers: ours20Followers, rvs: ours20RVs, rvW: 2.6, rvSmooth: false}
];

const gridLefts = [52, 376, 701, 1026];
const gridTops = [30, 339];
const GW = 271, GH = 221;

const grids = [], xAxes = [], yAxes = [], series = [], graphics = [];
for (let i = 0; i < 8; i++) {
  const col = i % 4, row = Math.floor(i / 4);
  const left = gridLefts[col], top = gridTops[row];
  grids.push({left: left, top: top, width: GW, height: GH, show: true, borderColor: '#cfcfcf', borderWidth: 1.2, backgroundColor: '#fff', containLabel: false});
  xAxes.push({
    type: 'value', gridIndex: i, min: xRanges[i][0], max: xRanges[i][1], interval: 20,
    axisLine: {show: false}, axisTick: {show: false},
    axisLabel: {fontSize: FS_, color: TXT, fontFamily: FONT, margin: 7, formatter: function (v) { return String(v); }},
    splitLine: {show: true, lineStyle: {color: '#d4d4d4', width: 1, type: [4, 2]}},
    name: '{a|Time (}{b|s}{a|)}', nameLocation: 'middle', nameGap: 28,
    nameTextStyle: {fontSize: FS_, color: TXT, fontFamily: FONT,
      rich: {a: {fontSize: FS_, color: TXT, fontFamily: FONT}, b: {fontSize: FS_, color: TXT, fontFamily: FONT, fontStyle: 'italic'}}}
  });
  const y = {
    type: 'value', gridIndex: i, min: yRanges[i][0], max: yRanges[i][1],
    splitNumber: i === 0 ? 3 : 5,
    axisLine: {show: false}, axisTick: {show: false},
    axisLabel: {fontSize: FS_, color: TXT, fontFamily: FONT, margin: 9,
      formatter: function (v) { return Math.abs(v - Math.round(v)) < 1e-6 ? String(Math.round(v)) : ''; }},
    splitLine: {show: true, lineStyle: {color: '#d4d4d4', width: 1, type: [4, 2]}}
  };
  if (col === 0) {
    y.name = 'Velocity (m/s)';
    y.nameLocation = 'middle';
    y.nameGap = 24;
    y.nameTextStyle = {fontSize: FS_, color: TXT, fontFamily: FONT};
  }
  yAxes.push(y);

  graphics.push({type: 'text', x: left + GW / 2, y: row === 0 ? 17.5 : 327.5, silent: true,
    style: {text: panelTitles[i], fill: TXT, fontSize: 18, fontWeight: 'bold', fontFamily: FONT, textAlign: 'center', textVerticalAlign: 'middle'}});

  const p = panelData[i];
  const mk = (name, data, color, width, smooth) => ({
    type: 'line', name: name, data: data, xAxisIndex: i, yAxisIndex: i,
    symbol: 'none', showSymbol: false, smooth: smooth, silent: true, animation: false,
    lineStyle: {color: color, width: width}, itemStyle: {color: color}, emphasis: {disabled: true}
  });
  p.followers.forEach(d => series.push(mk(legendNames[1], d, TEAL, 1, 0.3)));
  p.rvs.forEach(d => series.push(mk(legendNames[2], d, PURPLE, p.rvW, p.rvSmooth)));
  series.push(mk(legendNames[0], p.leader, BLACK, 1.2, 0.15));
}

const chart = echarts.init(document.getElementById('c'), null, {renderer: 'canvas'});
chart.setOption({
  animation: false,
  backgroundColor: '#ffffff',
  textStyle: {fontFamily: FONT},
  grid: grids, xAxis: xAxes, yAxis: yAxes, series: series,
  graphic: graphics,
  legend: {
    data: legendNames, left: 420, top: 616, orient: 'horizontal', selectedMode: false,
    icon: 'rect', itemWidth: 37, itemHeight: 2.2, itemGap: 37,
    padding: [7, 10, 12, 6], borderColor: '#d6d6d6', borderWidth: 1, borderRadius: 4, backgroundColor: '#fff',
    textStyle: {fontSize: FS_, color: TXT, fontFamily: FONT, padding: [0, 0, 0, 10]}
  }
});
</script>
</body>
</html>
